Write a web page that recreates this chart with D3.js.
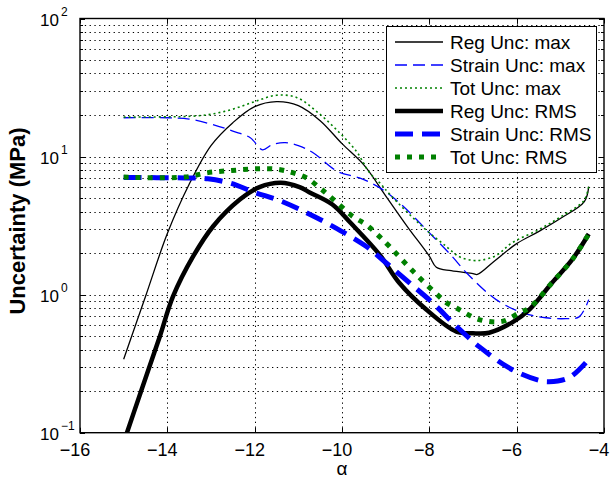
<!DOCTYPE html>
<html>
<head>
<meta charset="utf-8">
<script src="https://cdn.jsdelivr.net/npm/d3@7"></script>
<style>
  body { margin: 0; background: #fff; }
  text { font-family: "Liberation Sans", Arial, Helvetica, sans-serif; fill: #000; }
</style>
</head>
<body>
<div class="chart-container"></div>
<script>
//Data: [alpha, uncertainty in MPa]
const alpha_ticks = [-16, -14, -12, -10, -8, -6, -4];
const unc_exponents = [-1, 0, 1, 2];
const minor_steps = [2, 3, 4, 5, 6, 7, 8, 9];
const legend_labels = ['Reg Unc: max', 'Strain Unc: max', 'Tot Unc: max',
    'Reg Unc: RMS', 'Strain Unc: RMS', 'Tot Unc: RMS'];

const reg_max = [
    [-15.0, 0.34], [-14.5, 0.97], [-14.0, 2.77], [-13.5, 6.3], [-13.0, 12.0],
    [-12.5, 17.6], [-12.0, 23.0], [-11.5, 25.0], [-11.0, 23.4], [-10.5, 18.2],
    [-10.0, 12.4], [-9.5, 8.7], [-9.0, 5.2], [-8.5, 3.1], [-8.0, 1.9],
    [-7.84, 1.58], [-7.5, 1.49], [-7.0, 1.42], [-6.9, 1.40], [-6.5, 1.76],
    [-6.0, 2.34], [-5.5, 2.86], [-5.0, 3.56], [-4.45, 4.72], [-4.35, 6.06]
];
const strain_max = [
    [-15.0, 19.1], [-14.0, 19.1], [-13.5, 18.7], [-13.0, 17.2], [-12.5, 15.3],
    [-12.1, 13.7], [-11.82, 11.2], [-11.6, 12.2], [-11.3, 12.6], [-11.0, 12.0],
    [-10.67, 10.7], [-10.1, 7.8], [-9.6, 7.0], [-9.14, 5.96], [-8.69, 4.64],
    [-8.07, 2.96], [-7.47, 1.88], [-7.15, 1.44], [-6.47, 0.92], [-5.87, 0.74],
    [-5.33, 0.68], [-4.87, 0.67], [-4.57, 0.69], [-4.35, 0.92]
];
const tot_max = [
    [-15.0, 19.3], [-14.0, 19.4], [-13.6, 19.5], [-13.07, 20.1], [-12.53, 21.9],
    [-12.0, 25.0], [-11.5, 27.8], [-11.04, 26.8], [-10.58, 21.2], [-10.13, 15.7],
    [-9.67, 10.9], [-9.37, 7.65], [-9.14, 6.48], [-8.9, 5.3], [-8.16, 3.11],
    [-7.61, 2.23], [-7.31, 1.88], [-7.0, 1.77], [-6.8, 1.78], [-6.47, 1.92],
    [-6.1, 2.38], [-5.5, 2.95], [-5.0, 3.65], [-4.46, 4.8], [-4.35, 6.1]
];
const reg_rms = [
    [-15.0, 0.085], [-14.59, 0.205], [-14.17, 0.50], [-13.87, 0.97], [-13.41, 1.89],
    [-12.95, 3.13], [-12.34, 4.88], [-11.89, 6.0], [-11.4, 6.45], [-10.97, 6.0],
    [-10.74, 5.5], [-10.22, 4.5], [-9.8, 3.3], [-9.14, 1.95], [-8.69, 1.22],
    [-8.07, 0.78], [-7.38, 0.54], [-7.0, 0.525], [-6.63, 0.53], [-6.1, 0.63],
    [-5.71, 0.78], [-5.19, 1.22], [-4.73, 1.79], [-4.35, 2.75]
];
const strain_rms = [
    [-15.0, 7.05], [-13.6, 7.0], [-13.07, 6.9], [-12.55, 6.4], [-12.0, 5.5],
    [-11.4, 4.76], [-10.8, 3.9], [-10.2, 3.11], [-9.44, 2.23], [-9.0, 1.71],
    [-8.46, 1.22], [-7.93, 0.875], [-7.38, 0.59], [-6.86, 0.42], [-6.1, 0.286],
    [-5.5, 0.24], [-5.26, 0.234], [-4.8, 0.25], [-4.35, 0.34]
];
const tot_rms = [
    [-15.0, 7.1], [-13.6, 7.1], [-13.07, 7.65], [-12.53, 7.92], [-12.0, 8.15],
    [-11.5, 8.1], [-11.13, 7.65], [-10.81, 7.0], [-10.5, 5.9], [-10.2, 4.9],
    [-9.76, 3.7], [-9.44, 3.2], [-9.14, 2.63], [-8.91, 2.23], [-8.35, 1.45],
    [-7.77, 0.967], [-7.61, 0.875], [-7.38, 0.8], [-6.86, 0.66], [-6.33, 0.64],
    [-5.94, 0.74], [-5.71, 0.8], [-5.19, 1.22], [-4.73, 1.79], [-4.35, 2.75]
];

// line look for each series (same order as legend)
const series_styles = [
    { data: reg_max, color: '#000', width: 1.3, dash: null },
    { data: strain_max, color: '#0000ff', width: 1.3, dash: '12,6' },
    { data: tot_max, color: '#008000', width: 1.6, dash: '2,3' },
    { data: reg_rms, color: '#000', width: 4.5, dash: null },
    { data: strain_rms, color: '#0000ff', width: 5, dash: '18,9' },
    { data: tot_rms, color: '#008000', width: 5, dash: '5,7' }
];

function setupCanvas() {
    const svg_width = 611;
    const svg_height = 485;
    const plot = { left: 80, right: 604, top: 18.5, bottom: 432.7 };

    const svg = d3.select('.chart-container').append('svg')
        .attr('width', svg_width).attr('height', svg_height);

    //scales
    const xScale = d3.scaleLinear().domain([-16, -4]).range([plot.left, plot.right]);
    const yScale = d3.scaleLog().domain([0.1, 100]).range([plot.bottom, plot.top]);

    svg.append('defs').append('clipPath').attr('id', 'plot-clip')
        .append('rect')
        .attr('x', plot.left).attr('y', plot.top)
        .attr('width', plot.right - plot.left).attr('height', plot.bottom - plot.top);

    //grid: log minors + majors horizontally, majors vertically
    const y_grid = [];
    unc_exponents.forEach(e => {
        if (e < 2) {
            y_grid.push(Math.pow(10, e));
            minor_steps.forEach(m => y_grid.push(m * Math.pow(10, e)));
        }
    });
    const grid = svg.append('g').attr('class', 'grid')
        .style('stroke', '#000').style('stroke-width', 1)
        .style('stroke-dasharray', '1.3,3.5');
    grid.selectAll('.hgrid').data(y_grid.filter(v => v > 0.1)).enter()
        .append('line').attr('class', 'hgrid')
        .attr('x1', plot.left).attr('x2', plot.right)
        .attr('y1', d => Math.round(yScale(d)) + 0.5)
        .attr('y2', d => Math.round(yScale(d)) + 0.5);
    grid.selectAll('.vgrid').data(alpha_ticks.slice(1, -1)).enter()
        .append('line').attr('class', 'vgrid')
        .attr('y1', plot.top).attr('y2', plot.bottom)
        .attr('x1', d => Math.round(xScale(d)) + 0.5)
        .attr('x2', d => Math.round(xScale(d)) + 0.5);

    //curves
    const curves = svg.append('g').attr('clip-path', 'url(#plot-clip)');
    series_styles.forEach(s => {
        const line = d3.line()
            .x(d => xScale(d[0]))
            .y(d => yScale(d[1]))
            .curve(d3.curveCatmullRom.alpha(0.5));
        curves.append('path')
            .datum(s.data)
            .attr('d', line)
            .style('fill', 'none')
            .style('stroke', s.color)
            .style('stroke-width', s.width)
            .style('stroke-dasharray', s.dash)
            .style('stroke-linejoin', 'round');
    });

    //ticks on all four sides, pointing inward
    const ticks = svg.append('g').attr('class', 'ticks')
        .style('stroke', '#000').style('stroke-width', 1);
    alpha_ticks.forEach(a => {
        const x = Math.round(xScale(a)) + 0.5;
        ticks.append('line').attr('x1', x).attr('x2', x)
            .attr('y1', plot.bottom).attr('y2', plot.bottom - 5);
        ticks.append('line').attr('x1', x).attr('x2', x)
            .attr('y1', plot.top).attr('y2', plot.top + 5);
    });
    y_grid.concat([100]).forEach(v => {
        const y = Math.round(yScale(v)) + 0.5;
        const len = unc_exponents.includes(Math.round(Math.log10(v) * 1000) / 1000) ? 5 : 3;
        ticks.append('line').attr('x1', plot.left).attr('x2', plot.left + len)
            .attr('y1', y).attr('y2', y);
        ticks.append('line').attr('x1', plot.right).attr('x2', plot.right - len)
            .attr('y1', y).attr('y2', y);
    });

    //axes box
    svg.append('rect')
        .attr('x', plot.left).attr('y', plot.top)
        .attr('width', plot.right - plot.left).attr('height', plot.bottom - plot.top)
        .style('fill', 'none').style('stroke', '#000').style('stroke-width', 1.4);

    //x tick labels
    svg.append('g').selectAll('text').data(alpha_ticks).enter()
        .append('text')
        .attr('x', d => xScale(d) - 5)
        .attr('y', 456)
        .attr('text-anchor', 'middle')
        .style('font-size', '18px')
        .text(d => d3.format('d')(d));

    //y tick labels as powers of ten
    const ylab = svg.append('g').selectAll('text').data(unc_exponents).enter()
        .append('text')
        .attr('x', 40)
        .attr('y', d => yScale(Math.pow(10, d)) + 7.5)
        .style('font-size', '17px');
    ylab.append('tspan').text('10');
    ylab.append('tspan')
        .attr('dx', 2).attr('dy', -10.5)
        .style('font-size', '12px')
        .text(d => d3.format('d')(d));

    //axis titles
    svg.append('text')
        .attr('transform', `translate(25,221) rotate(-90)`)
        .attr('text-anchor', 'middle')
        .style('font-size', '22px').style('font-weight', 'bold')
        .text('Uncertainty (MPa)');
    svg.append('text')
        .attr('x', 342).attr('y', 475)
        .attr('text-anchor', 'middle')
        .style('font-size', '19px')
        .text('α');

    //legend
    const legend = svg.append('g').attr('class', 'legend');
    legend.append('rect')
        .attr('x', 386.5).attr('y', 26.5).attr('width', 210).attr('height', 146)
        .style('fill', '#fff').style('stroke', '#000').style('stroke-width', 1);
    const row_y = i => 42 + i * 23;
    series_styles.forEach((s, i) => {
        legend.append('line')
            .attr('x1', 395).attr('x2', 443)
            .attr('y1', row_y(i)).attr('y2', row_y(i))
            .style('stroke', s.color)
            .style('stroke-width', s.width)
            .style('stroke-dasharray', s.dash);
        legend.append('text')
            .attr('x', 450).attr('y', row_y(i) + 7)
            .style('font-size', '19px')
            .text(legend_labels[i]);
    });
}

setupCanvas();
</script>
</body>
</html>
